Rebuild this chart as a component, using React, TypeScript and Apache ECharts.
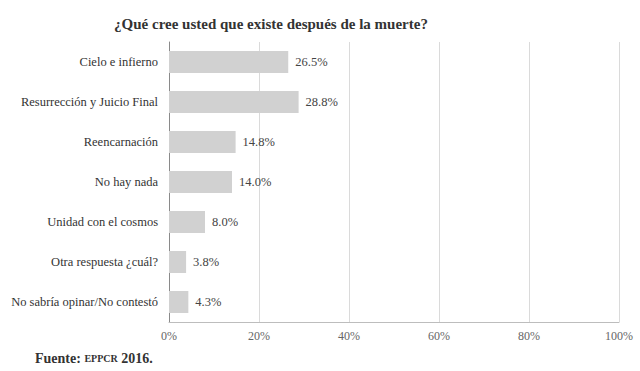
import React, { useEffect, useRef } from "react";
import * as echarts from "echarts";

const categories = [
  "Cielo e infierno",
  "Resurrección y Juicio Final",
  "Reencarnación",
  "No hay nada",
  "Unidad con el cosmos",
  "Otra respuesta ¿cuál?",
  "No sabría opinar/No contestó",
];
const values = [26.5, 28.8, 14.8, 14.0, 8.0, 3.8, 4.3];
const title = "¿Qué cree usted que existe después de la muerte?";

const SERIF = "Liberation Serif, Times New Roman, DejaVu Serif, serif";

export default function App() {
  const ref = useRef<HTMLDivElement>(null);
  useEffect(() => {
    if (!ref.current) return;
    const chart = echarts.init(ref.current, null, { renderer: "svg" });
    chart.setOption({
      animation: false,
      backgroundColor: "#ffffff",
      textStyle: { fontFamily: SERIF },
      title: {
        text: title,
        left: 266,
        top: 11,
        textAlign: "center",
        textStyle: { fontFamily: SERIF, fontSize: 15, fontWeight: "bold", color: "#333" },
      },
      grid: { left: 169, right: 21, top: 42, bottom: 49, containLabel: false },
      xAxis: {
        type: "value",
        min: 0,
        max: 100,
        interval: 20,
        axisLine: { show: true, lineStyle: { color: "#bdbdbd", width: 1 } },
        axisTick: { show: false },
        splitLine: { show: true, lineStyle: { color: "#dadada", width: 1 } },
        axisLabel: {
          formatter: "{value}%",
          fontFamily: SERIF,
          fontSize: 12,
          color: "#666",
          margin: 8,
        },
      },
      yAxis: {
        type: "category",
        data: categories,
        inverse: true,
        axisLine: { show: true, lineStyle: { color: "#8a8a8a", width: 1 } },
        axisTick: { show: false },
        axisLabel: { fontFamily: SERIF, fontSize: 12.5, color: "#333", margin: 11 },
      },
      series: [
        {
          type: "bar",
          data: values,
          barWidth: 22,
          itemStyle: { color: "#d1d1d1" },
          label: {
            show: true,
            position: "right",
            distance: 7,
            fontFamily: SERIF,
            fontSize: 12.5,
            color: "#444",
            formatter: (p: any) => Number(p.value).toFixed(1) + "%",
          },
        },
      ],
      graphic: [
        {
          type: "text",
          left: 35,
          top: 351,
          style: {
            text: "{a|Fuente: }{b|EPPCR}{a| 2016.}",
            rich: {
              a: { fontFamily: SERIF, fontSize: 14, fontWeight: "bold", fill: "#333" },
              b: { fontFamily: SERIF, fontSize: 10, fontWeight: "bold", fill: "#333" },
            },
          },
        },
      ],
    });
    return () => chart.dispose();
  }, []);
  return (
    <div
      ref={ref}
      style={{ position: "fixed", left: 0, top: 0, width: 640, height: 371 }}
    />
  );
}
